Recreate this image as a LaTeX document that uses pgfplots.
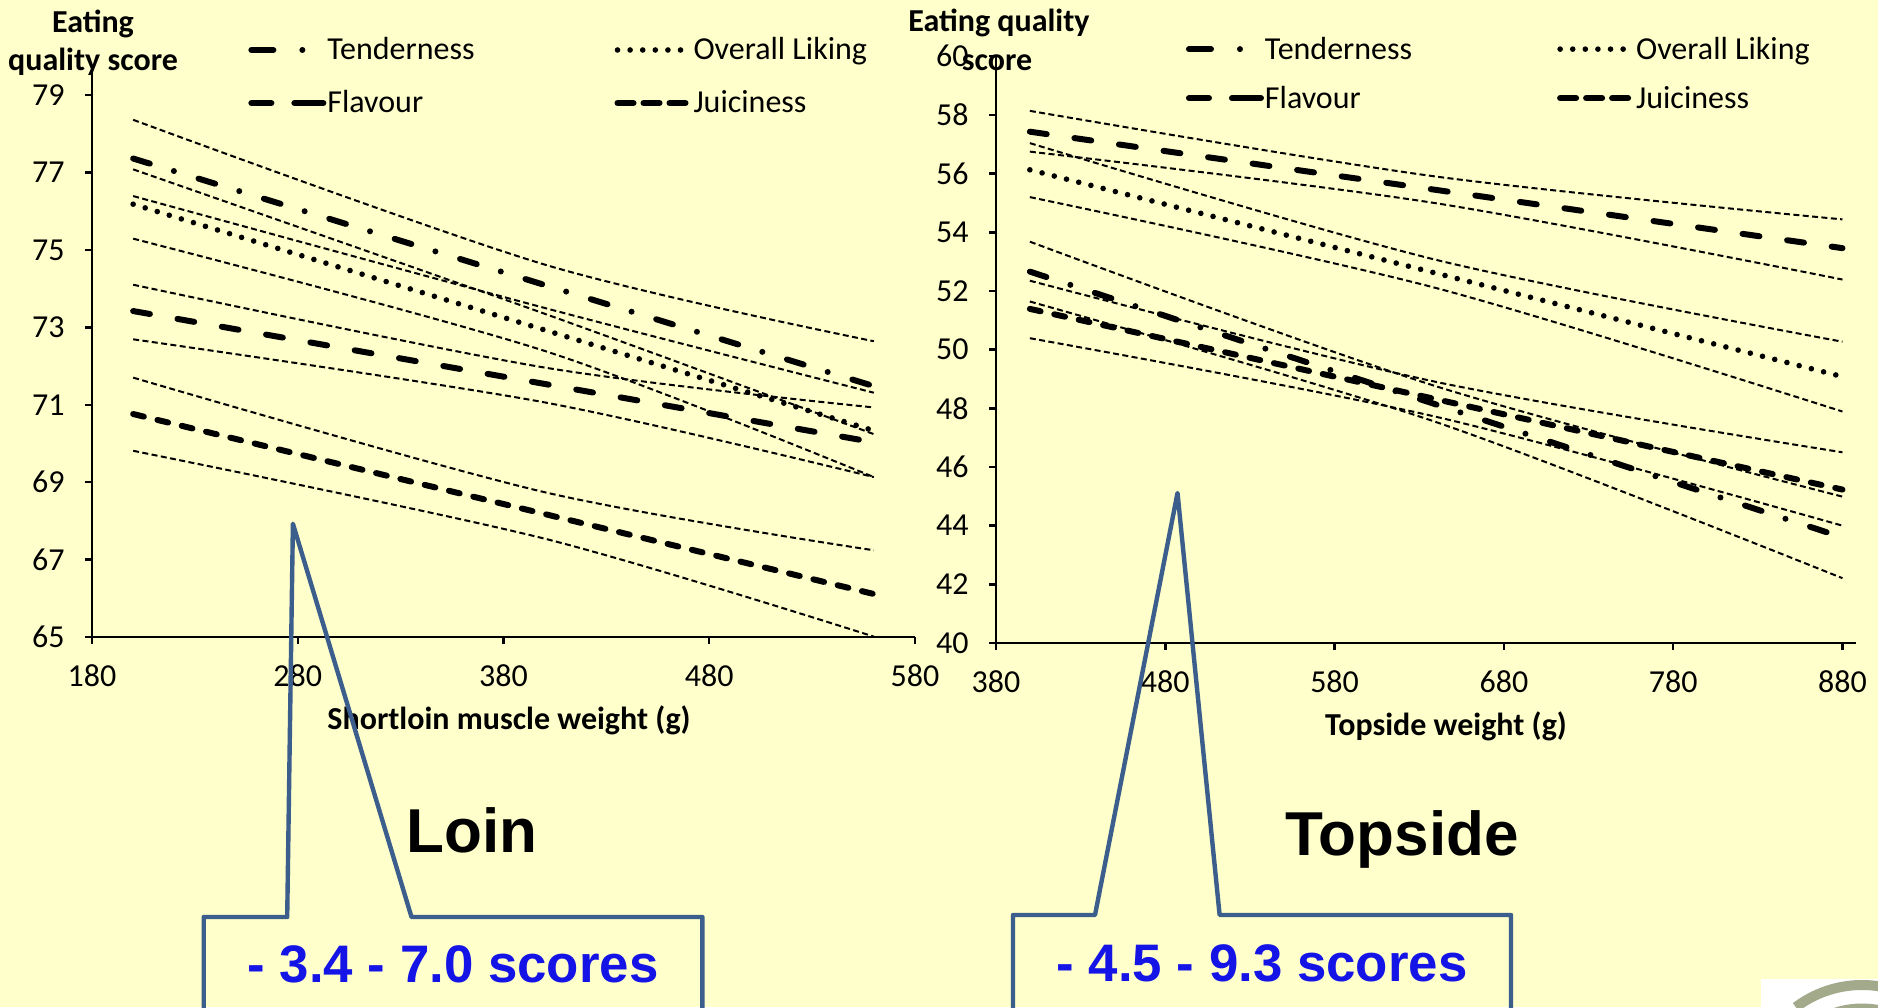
\documentclass[border=0pt]{standalone}
\usepackage{pgfplots}
\pgfplotsset{compat=1.18}
\usepackage{fontspec}
\setmainfont{Carlito}
\newfontfamily\arialfont{Liberation Sans}
\definecolor{bg}{HTML}{FFFFCC}
\definecolor{callout}{HTML}{3B5E8C}
\definecolor{bluetxt}{HTML}{1414E6}
\definecolor{logo}{HTML}{A3A98B}

\tikzset{
 ci/.style={black, line width=1pt, dash pattern=on 3pt off 1.7pt},
 tend/.style={black, line width=3pt, line cap=round, dash pattern=on 8.7pt off 12.6pt on 0pt off 12.9pt},
 ovl/.style={black, line width=2.8pt, line cap=round, dash pattern=on 0pt off 6.3pt},
 flav/.style={black, line width=3pt, line cap=round, dash pattern=on 8.5pt off 14pt},
 juic/.style={black, line width=3pt, line cap=round, dash pattern=on 5.5pt off 7pt},
}
\pgfplotsset{
 myaxis/.style={
  scale only axis, anchor=south west,
  axis x line*=bottom, axis y line*=left,
  axis line style={line width=1.2pt, -},
  tick style={line width=1.2pt, black},
  tick align=outside, major tick length=3.5pt,
  tick label style={font=\fontsize{16}{16}\selectfont},
  /pgf/number format/assume math mode=true,
  xticklabel shift=7pt, yticklabel shift=6.7pt,
  label style={font=\bfseries\fontsize{16}{19}\selectfont},
  legend columns=2, legend cell align=left,
  legend image code/.code={\draw[##1] (0pt,0pt) -- (36pt,0pt);},
  legend style={draw=none, fill=none, inner sep=0pt, outer sep=0pt, anchor=north west,
    font=\fontsize{16}{16}\selectfont,
    nodes={inner sep=0pt, text height=12.5pt, text depth=2.5pt},
    column sep=0pt,
    /tikz/column 1/.style={column sep=0.5pt},
    /tikz/column 3/.style={column sep=0.5pt}},
 },
 legtend/.style={legend image code/.code={\draw[##1, dash pattern=on 11pt off 14.5pt on 0pt off 20pt] (0pt,0pt) -- (36pt,0pt);}},
 legflav/.style={legend image code/.code={\draw[##1, dash pattern=on 10pt off 11.5pt on 14.5pt off 5pt] (0pt,0pt) -- (36pt,0pt);}},
 legjuic/.style={legend image code/.code={\draw[##1, dash pattern=on 8pt off 5pt] (0pt,0pt) -- (36pt,0pt);}},
}

\begin{document}
\begin{tikzpicture}
\useasboundingbox (0,0) rectangle (939pt,503.5pt);
\clip (0,0) rectangle (939pt,503.5pt);
\fill[bg] (0,0) rectangle (939pt,503.5pt);

% ---------------- Loin ----------------
\begin{axis}[myaxis, at={(46pt,185pt)}, width=411.5pt, height=285.5pt,
  xmin=180, xmax=580, ymin=65, ymax=79.75,
  xtick={180,280,380,480,580}, ytick={65,67,...,79},
  xlabel={Shortloin muscle weight (g)},
  xlabel style={at={(axis description cs:0.5067,-0.1454)}, anchor=center},
  legend style={at={(axis description cs:0.190,1.0543)}, row sep=11.5pt,
    /tikz/column 2/.style={column sep=70pt}}]
% confidence bands
\addplot[ci, smooth, forget plot] coordinates {(200,78.36) (400,74.62) (560,72.64)};
\addplot[ci, smooth, forget plot] coordinates {(200,77.08) (400,73.35) (560,70.24)};
\addplot[ci, smooth, forget plot] coordinates {(200,76.39) (400,73.50) (560,71.31)};
\addplot[ci, smooth, forget plot] coordinates {(200,75.29) (400,72.39) (560,69.13)};
\addplot[ci, smooth, forget plot] coordinates {(200,74.10) (400,71.96) (560,70.93)};
\addplot[ci, smooth, forget plot] coordinates {(200,72.69) (400,71.06) (560,69.13)};
\addplot[ci, smooth, forget plot] coordinates {(200,71.70) (400,68.74) (560,67.24)};
\addplot[ci, smooth, forget plot] coordinates {(200,69.81) (400,67.54) (560,65.01)};
% regression lines
\addplot[tend, legtend] coordinates {(200,77.36) (560,71.48)};
\addlegendentry{Tenderness}
\addplot[ovl] coordinates {(200,76.18) (560,70.33)};
\addlegendentry{Overall Liking}
\addplot[flav, legflav] coordinates {(200,73.42) (560,70.03)};
\addlegendentry{Flavour}
\addplot[juic, legjuic] coordinates {(200,70.76) (560,66.11)};
\addlegendentry{Juiciness}
\end{axis}

% ---------------- Topside ----------------
\begin{axis}[myaxis, at={(498pt,182pt)}, width=430pt, height=293.35pt,
  xmin=380, xmax=888, ymin=40, ymax=60,
  xtick={380,480,580,680,780,880}, ytick={40,42,...,60},
  xlabel={Topside weight (g)},
  xlabel style={at={(axis description cs:0.5233,-0.1415)}, anchor=center},
  legend style={at={(axis description cs:0.2209,1.0378)}, row sep=9.5pt,
    /tikz/column 2/.style={column sep=72.5pt}}]
% confidence bands
\addplot[ci, smooth, forget plot] coordinates {(400,58.14) (640,55.90) (880,54.44)};
\addplot[ci, smooth, forget plot] coordinates {(400,56.75) (640,54.99) (880,52.39)};
\addplot[ci, smooth, forget plot] coordinates {(400,57.04) (640,53.06) (880,50.27)};
\addplot[ci, smooth, forget plot] coordinates {(400,55.20) (640,52.10) (880,47.89)};
\addplot[ci, smooth, forget plot] coordinates {(400,53.68) (640,48.75) (880,44.99)};
\addplot[ci, smooth, forget plot] coordinates {(400,52.35) (640,48.90) (880,46.50)};
\addplot[ci, smooth, forget plot] coordinates {(400,51.64) (640,47.53) (880,42.21)};
\addplot[ci, smooth, forget plot] coordinates {(400,50.39) (640,47.71) (880,44.00)};
% regression lines
\addplot[tend, legtend] coordinates {(400,52.66) (880,43.60)};
\addlegendentry{Tenderness}
\addplot[ovl] coordinates {(400,56.13) (880,49.08)};
\addlegendentry{Overall Liking}
\addplot[flav, legflav] coordinates {(400,57.43) (880,53.46)};
\addlegendentry{Flavour}
\addplot[juic, legjuic] coordinates {(400,51.39) (880,45.23)};
\addlegendentry{Juiciness}
\end{axis}

% y-axis titles
\node[font=\bfseries\fontsize{16}{16}\selectfont, anchor=base] at (46.5pt,487.3pt) {Eating};
\node[font=\bfseries\fontsize{16}{16}\selectfont, anchor=base] at (46.5pt,468.3pt) {quality score};
\node[font=\bfseries\fontsize{16}{16}\selectfont, anchor=base] at (499.5pt,487.8pt) {Eating quality};
\node[font=\bfseries\fontsize{16}{16}\selectfont, anchor=base] at (498.5pt,468.3pt) {score};

% panel titles
\node[font=\arialfont\bfseries\fontsize{31}{31}\selectfont, anchor=base] at (235.9pt,77.5pt) {Loin};
\node[font=\arialfont\bfseries\fontsize{31}{31}\selectfont, anchor=base] at (701pt,76pt) {Topside};

% callouts
\draw[callout, line width=2.2pt, line join=round] (101.85pt,-10pt) -- (101.85pt,45pt) -- (143.6pt,45pt) -- (146.45pt,241.65pt) -- (205.75pt,45pt) -- (351.2pt,45pt) -- (351.2pt,-10pt);
\node[font=\arialfont\bfseries\fontsize{26.4}{26.4}\selectfont, text=bluetxt, anchor=base] at (226.5pt,12.25pt) {- 3.4 - 7.0 scores};
\draw[callout, line width=2.2pt, line join=round] (506.5pt,-10pt) -- (506.5pt,46pt) -- (547.5pt,46pt) -- (588.75pt,257pt) -- (609.8pt,46pt) -- (755.5pt,46pt) -- (755.5pt,-10pt);
\node[font=\arialfont\bfseries\fontsize{26.4}{26.4}\selectfont, text=bluetxt, anchor=base] at (631pt,12.8pt) {- 4.5 - 9.3 scores};

% logo corner
\fill[white] (880.5pt,0) rectangle (939pt,14pt);
\draw[logo, line width=5pt] ([shift={(127:55pt)}]931pt,-44pt) arc[start angle=127, end angle=60, radius=55pt];
\draw[logo, line width=3.5pt] ([shift={(115:44pt)}]931pt,-44pt) arc[start angle=115, end angle=60, radius=44pt];
\end{tikzpicture}
\end{document}
